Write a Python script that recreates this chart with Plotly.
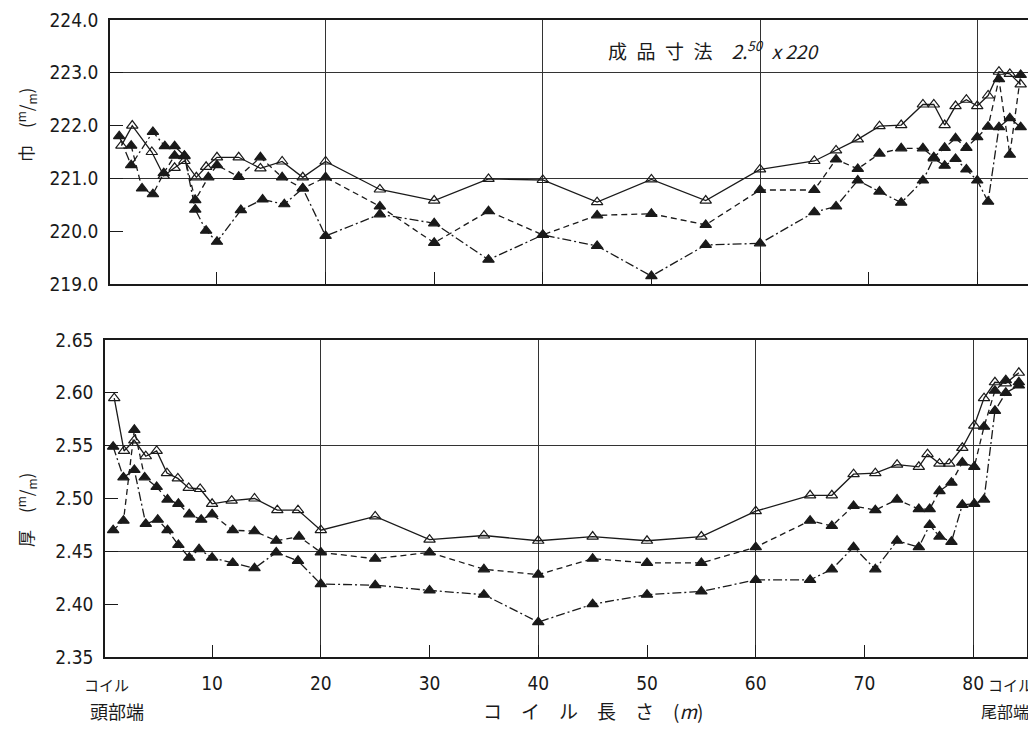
import plotly.graph_objects as go

# ---------------- data ----------------
# Width (巾) panel
TOP_A_X = [1.2, 2.2, 4.0, 5.1, 6.1, 7.0, 8.1, 9.0, 10.0, 12.0, 14.0, 16.0, 17.9, 20.0, 25, 30, 35, 40, 45, 50, 55, 60, 65, 67, 69, 71, 73, 75, 76, 77, 78, 79, 80, 81, 82, 83, 84]
TOP_A_Y = [221.62, 222.0, 221.5, 221.05, 221.2, 221.33, 221.02, 221.22, 221.4, 221.4, 221.19, 221.32, 221.02, 221.32,
           220.79, 220.58, 220.99, 220.97, 220.55, 220.98, 220.58, 221.17, 221.33, 221.53, 221.74,
           221.99, 222.01, 222.4, 222.4, 222.01, 222.37, 222.49, 222.37, 222.57, 223.02, 222.98, 222.78]

TOP_B_X = [2.1, 3.1, 4.1, 5.1, 6.1, 7.0, 8.0, 9.2, 10.0, 12.0, 14.0, 16.0, 17.9, 20.0, 25, 30, 35, 40, 45, 50, 55, 60, 65, 67, 69, 71, 73, 75, 76, 77, 78, 79, 80, 81, 82, 83, 84]
TOP_B_Y = [221.62, 220.81, 220.70, 221.1, 221.43, 221.42, 220.59, 221.02, 221.25, 221.03, 221.40, 221.02, 220.81, 221.02,
           220.47, 219.78, 220.38, 219.93, 220.30, 220.33, 220.12, 220.78, 220.78, 221.36, 221.18,
           221.47, 221.57, 221.57, 221.40, 221.58, 221.76, 221.58, 221.78, 221.98, 222.88, 221.45, 222.96]

TOP_C_X = [1.0, 2.1, 4.1, 5.2, 6.1, 7.0, 8.0, 9.0, 10.0, 12.2, 14.2, 16.2, 17.9, 20.0, 25, 30, 35, 40, 45, 50, 55, 60, 65, 67, 69, 71, 73, 75, 76, 77, 78, 79, 80, 81, 82, 83, 84]
TOP_C_Y = [221.8, 221.25, 221.88, 221.61, 221.61, 221.43, 220.41, 220.01, 219.8, 220.4, 220.6, 220.51, 220.81, 219.91,
           220.32, 220.15, 219.46, 219.93, 219.72, 219.15, 219.74, 219.77, 220.36, 220.47, 220.96,
           220.75, 220.54, 220.96, 221.38, 221.24, 221.37, 221.17, 220.96, 220.56, 221.97, 222.14, 221.97]

# Thickness (厚) panel
BOT_A_X = [1.0, 1.9, 2.85, 3.9, 4.9, 5.85, 6.85, 7.85, 8.9, 10.0, 11.8, 13.9, 16.0, 17.9, 20.0, 25, 30, 35, 40, 45, 50, 55, 60, 65, 67, 69, 71, 73, 75, 75.8, 76.9, 77.8, 79, 80.1, 81, 82, 83, 84.2]
BOT_A_Y = [2.595, 2.545, 2.555, 2.540, 2.545, 2.524, 2.519, 2.510, 2.509, 2.495, 2.498, 2.500, 2.489, 2.489, 2.470,
           2.483, 2.461, 2.465, 2.460, 2.464, 2.460, 2.464, 2.488, 2.503, 2.503, 2.523,
           2.524, 2.532, 2.530, 2.542, 2.533, 2.533, 2.548, 2.569, 2.595, 2.610, 2.609, 2.619]

BOT_B_X = [0.9, 1.85, 2.85, 3.8, 4.9, 5.9, 6.9, 7.9, 9.0, 10.0, 11.9, 13.9, 15.9, 18.0, 20.0, 25, 30, 35, 40, 45, 50, 55, 60, 65, 67, 69, 71, 73, 75, 76, 76.9, 78, 79, 80.1, 81, 82, 83, 84.2]
BOT_B_Y = [2.470, 2.479, 2.565, 2.520, 2.511, 2.499, 2.495, 2.485, 2.480, 2.485, 2.470, 2.469, 2.460, 2.464, 2.449,
           2.443, 2.449, 2.433, 2.428, 2.443, 2.439, 2.439, 2.454, 2.479, 2.474, 2.493,
           2.489, 2.499, 2.490, 2.490, 2.507, 2.515, 2.534, 2.530, 2.568, 2.602, 2.612, 2.610]

BOT_C_X = [0.9, 1.85, 2.85, 3.9, 5.0, 5.9, 6.9, 7.9, 8.8, 10.0, 11.9, 13.9, 15.9, 17.9, 20.0, 25, 30, 35, 40, 45, 50, 55, 60, 65, 67, 69, 71, 73, 75, 76, 76.9, 78, 79, 80.1, 81, 82, 83, 84.2]
BOT_C_Y = [2.549, 2.520, 2.527, 2.476, 2.480, 2.470, 2.456, 2.444, 2.452, 2.444, 2.439, 2.434, 2.449, 2.441, 2.419,
           2.418, 2.413, 2.409, 2.383, 2.400, 2.409, 2.412, 2.423, 2.423, 2.433, 2.454,
           2.433, 2.460, 2.454, 2.475, 2.464, 2.459, 2.494, 2.495, 2.499, 2.583, 2.600, 2.607]

X_TICKS = [10, 20, 30, 40, 50, 60, 70, 80]
X_GRID = [20, 40, 60, 80]
TOP_Y_TICKS = [219, 220, 221, 222, 223, 224]
TOP_Y_GRID = [221, 223]
BOT_Y_TICKS = [2.35, 2.40, 2.45, 2.50, 2.55, 2.60, 2.65]
BOT_Y_GRID = [2.45, 2.55]

# ---------------- styling ----------------
INK = "#1a1a1a"
NUM_FONT = "DejaVu Sans Condensed, Liberation Sans Narrow, Arial Narrow, sans-serif"
JP_FONT = "Noto Sans CJK JP, sans-serif"
XR = [0.15, 84.95]

# the page body adds an 8 px offset; work in reference pixels and shift
OFF = 8
W, H = 1036 - OFF, 731 - OFF
ML, MR, MT, MB = 100 - OFF, 0, 20 - OFF, 74
PW, PH = W - ML - MR, H - MT - MB


def px_x(p):
    return (p - OFF - ML) / PW


def px_y(p):
    return 1 - (p - OFF - MT) / PH


fig = go.Figure()

series_style = [
    dict(dash="solid", symbol="triangle-up-open"),
    dict(dash="6px,4px", symbol="triangle-up"),
    dict(dash="9px,3px,2px,3px", symbol="triangle-up"),
]

top_sets = [(TOP_A_X, TOP_A_Y), (TOP_B_X, TOP_B_Y), (TOP_C_X, TOP_C_Y)]
bot_sets = [(BOT_A_X, BOT_A_Y), (BOT_B_X, BOT_B_Y), (BOT_C_X, BOT_C_Y)]

for (xs, ys), st in zip(top_sets, series_style):
    fig.add_trace(go.Scatter(x=xs, y=ys, xaxis="x", yaxis="y", mode="lines+markers",
                             line=dict(color=INK, width=1.3, dash=st["dash"]),
                             marker=dict(symbol=st["symbol"], size=10, color=INK,
                                         line=dict(color=INK, width=1.2)),
                             showlegend=False, hoverinfo="skip"))
for (xs, ys), st in zip(bot_sets, series_style):
    fig.add_trace(go.Scatter(x=xs, y=ys, xaxis="x2", yaxis="y2", mode="lines+markers",
                             line=dict(color=INK, width=1.3, dash=st["dash"]),
                             marker=dict(symbol=st["symbol"], size=10, color=INK,
                                         line=dict(color=INK, width=1.2)),
                             showlegend=False, hoverinfo="skip"))

# invisible traces that carry the grid overlay axes
fig.add_trace(go.Scatter(x=[X_GRID[0]], y=[TOP_Y_GRID[0]], xaxis="x3", yaxis="y3",
                         mode="markers", marker=dict(opacity=0), showlegend=False, hoverinfo="skip"))
fig.add_trace(go.Scatter(x=[X_GRID[0]], y=[BOT_Y_GRID[0]], xaxis="x4", yaxis="y4",
                         mode="markers", marker=dict(opacity=0), showlegend=False, hoverinfo="skip"))

top_dom_x = [px_x(110), px_x(1031)]
bot_dom_x = [px_x(105), px_x(1027)]
top_dom_y = [px_y(284), 1.0]
bot_dom_y = [0.0, px_y(340)]

axis_line = dict(showline=True, linecolor=INK, linewidth=1.6, mirror=True, zeroline=False)
tickfont = dict(family=NUM_FONT, size=19, color=INK)

fig.update_layout(
    width=W, height=H, margin=dict(l=ML, r=MR, t=MT, b=MB),
    paper_bgcolor="white", plot_bgcolor="white",
    xaxis=dict(domain=top_dom_x, range=XR, anchor="y", tickvals=X_TICKS, ticks="inside",
               ticklen=12, tickcolor=INK, tickwidth=1, showticklabels=False, showgrid=False, **axis_line),
    yaxis=dict(domain=top_dom_y, range=[219, 224], anchor="x", tickvals=TOP_Y_TICKS, tickformat=".1f",
               ticks="inside", ticklen=13, tickcolor=INK, tickwidth=1, showgrid=False,
               tickfont=tickfont, ticklabelstandoff=6, **axis_line),
    xaxis2=dict(domain=bot_dom_x, range=XR, anchor="y2", tickvals=X_TICKS, ticks="inside",
                ticklen=12, tickcolor=INK, tickwidth=1, showgrid=False, tickfont=tickfont,
                ticklabelstandoff=8, **axis_line),
    yaxis2=dict(domain=bot_dom_y, range=[2.35, 2.65], anchor="x2", tickvals=BOT_Y_TICKS, tickformat=".2f",
                ticks="inside", ticklen=13, tickcolor=INK, tickwidth=1, showgrid=False,
                tickfont=tickfont, ticklabelstandoff=6, **axis_line),
    xaxis3=dict(overlaying="x", range=XR, anchor="y3", tickvals=X_GRID, showgrid=True, gridcolor="#333",
                gridwidth=1, showticklabels=False, ticks="", showline=False, zeroline=False),
    yaxis3=dict(overlaying="y", range=[219, 224], anchor="x3", tickvals=TOP_Y_GRID, showgrid=True,
                gridcolor="#333", gridwidth=1, showticklabels=False, ticks="", showline=False, zeroline=False),
    xaxis4=dict(overlaying="x2", range=XR, anchor="y4", tickvals=X_GRID, showgrid=True, gridcolor="#333",
                gridwidth=1, showticklabels=False, ticks="", showline=False, zeroline=False),
    yaxis4=dict(overlaying="y2", range=[2.35, 2.65], anchor="x4", tickvals=BOT_Y_GRID, showgrid=True,
                gridcolor="#333", gridwidth=1, showticklabels=False, ticks="", showline=False, zeroline=False),
)

ann_common = dict(xref="paper", yref="paper", showarrow=False)

fig.add_annotation(x=px_x(606), y=px_y(50), xanchor="left", yanchor="middle",
                   text="成\u2002品\u2002寸\u2002法\u2003<i>2.<sup>50</sup>\u2002x 220</i>",
                   font=dict(family=JP_FONT, size=19, color=INK), **ann_common)
fig.add_annotation(x=px_x(593), y=px_y(711), xanchor="center", yanchor="middle",
                   text="コ　イ　ル　長　さ　(<i>m</i>)", font=dict(family=JP_FONT, size=19, color=INK), **ann_common)
fig.add_annotation(x=px_x(106), y=px_y(684), xanchor="center", yanchor="middle",
                   text="コイル", font=dict(family=JP_FONT, size=15, color=INK), **ann_common)
fig.add_annotation(x=px_x(117), y=px_y(711), xanchor="center", yanchor="middle",
                   text="頭部端", font=dict(family=JP_FONT, size=18, color=INK), **ann_common)
fig.add_annotation(x=px_x(1010), y=px_y(684), xanchor="center", yanchor="middle",
                   text="コイル", font=dict(family=JP_FONT, size=15, color=INK), **ann_common)
fig.add_annotation(x=px_x(1005), y=px_y(711), xanchor="center", yanchor="middle",
                   text="尾部端", font=dict(family=JP_FONT, size=16, color=INK), **ann_common)
fig.add_annotation(x=px_x(26), y=px_y(125), xanchor="center", yanchor="middle", textangle=-90,
                   text="巾　(<sup>m</sup>/<sub>m</sub>)", font=dict(family=JP_FONT, size=17, color=INK), **ann_common)
fig.add_annotation(x=px_x(26), y=px_y(510), xanchor="center", yanchor="middle", textangle=-90,
                   text="厚　(<sup>m</sup>/<sub>m</sub>)", font=dict(family=JP_FONT, size=17, color=INK), **ann_common)

fig.write_html("out.html")
